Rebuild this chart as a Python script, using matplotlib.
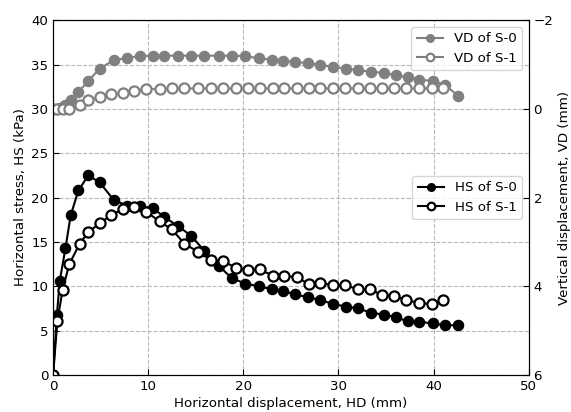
import matplotlib
matplotlib.use("Agg")
import matplotlib.pyplot as plt

# horizontal displacement (mm) of the two samples
hd_s0 = [0, 0.4, 0.7, 1.3, 1.85, 2.66, 3.7, 4.9, 6.4, 7.8, 9.1, 10.5, 11.7, 13.1,
         14.5, 15.9, 17.4, 18.8, 20.2, 21.6, 23.0, 24.2, 25.4, 26.8, 28.1, 29.4,
         30.8, 32.1, 33.4, 34.8, 36.0, 37.3, 38.5, 39.9, 41.2, 42.6]
hd_s1 = [0, 0.45, 1.0, 1.7, 2.8, 3.7, 4.9, 6.1, 7.3, 8.5, 9.8, 11.2, 12.5, 13.8,
         15.2, 16.6, 17.9, 19.2, 20.5, 21.7, 23.1, 24.3, 25.6, 26.9, 28.1, 29.4,
         30.7, 32.0, 33.3, 34.6, 35.8, 37.1, 38.5, 39.8, 41.0]

# horizontal stress (kPa)
hs_s0 = [0, 6.8, 10.6, 14.3, 18.0, 20.8, 22.5, 21.7, 19.7, 19.1, 19.0, 18.8, 17.8,
         16.8, 15.7, 14.0, 12.3, 10.9, 10.3, 10.0, 9.65, 9.45, 9.1, 8.75, 8.45, 8.0,
         7.7, 7.5, 7.0, 6.8, 6.5, 6.05, 6.0, 5.8, 5.6, 5.6]
hs_s1 = [0, 6.1, 9.6, 12.5, 14.8, 16.1, 17.1, 18.0, 18.7, 18.9, 18.4, 17.3, 16.4,
         14.8, 13.9, 13.0, 12.8, 12.1, 11.8, 11.9, 11.2, 11.2, 11.0, 10.25, 10.4,
         10.1, 10.1, 9.7, 9.65, 9.0, 8.9, 8.45, 8.1, 8.0, 8.4]

# vertical displacement (mm), negative = dilation
vd_s0 = [0, 0, -0.01, -0.08, -0.2, -0.38, -0.63, -0.91, -1.1, -1.15, -1.19, -1.2,
         -1.2, -1.2, -1.2, -1.2, -1.2, -1.2, -1.19, -1.14, -1.11, -1.09, -1.05,
         -1.04, -0.99, -0.95, -0.91, -0.87, -0.84, -0.81, -0.76, -0.71, -0.66,
         -0.63, -0.54, -0.29]
vd_s1 = [0, 0, 0, 0, -0.08, -0.2, -0.26, -0.33, -0.36, -0.41, -0.45, -0.45, -0.46,
         -0.46, -0.46, -0.46, -0.46, -0.46, -0.46, -0.46, -0.46, -0.46, -0.46,
         -0.46, -0.46, -0.46, -0.46, -0.46, -0.46, -0.46, -0.46, -0.46, -0.46,
         -0.46, -0.46]

plt.rcParams['font.family'] = 'DejaVu Sans'
plt.rcParams['font.size'] = 9.6

fig = plt.figure(figsize=(5.71, 4.12), dpi=100)
ax = fig.add_axes([0.093, 0.09, 0.833, 0.861])
ax2 = ax.twinx()

ms = 7.3
ax.plot(hd_s0, hs_s0, '-o', color='black', lw=1.5, ms=ms, mfc='black',
        mec='black', label='HS of S-0')
ax.plot(hd_s1, hs_s1, '-o', color='black', lw=1.5, ms=ms, mfc='white',
        mec='black', mew=1.6, label='HS of S-1')

gray = '#808080'
ax2.plot(hd_s0, vd_s0, '-o', color=gray, lw=1.5, ms=ms, mfc=gray, mec=gray,
         label='VD of S-0')
ax2.plot(hd_s1, vd_s1, '-o', color=gray, lw=1.5, ms=ms, mfc='white', mec=gray,
         mew=1.6, label='VD of S-1')

ax.set_xlim(0, 50)
ax.set_ylim(0, 40)
ax2.set_ylim(6, -2)
ax.set_xticks([0, 10, 20, 30, 40, 50])
ax.set_yticks([0, 5, 10, 15, 20, 25, 30, 35, 40])
ax2.set_yticks([-2, 0, 2, 4, 6])
ax2.set_yticklabels(['\u22122', '0', '2', '4', '6'])

ax.grid(True, linestyle='--', color='#b8b8b8', lw=0.8)
ax.tick_params(direction='in', length=4)
ax2.tick_params(direction='in', length=4)

ax.set_xlabel('Horizontal displacement, HD (mm)', labelpad=3)
ax.set_ylabel('Horizontal stress, HS (kPa)', labelpad=3)
ax2.set_ylabel('Vertical displacement, VD (mm)', labelpad=3)

ax.legend(loc='center right', markerscale=0.75)
ax2.legend(loc='upper right', markerscale=0.75)

fig.savefig('out.png', dpi=100)
